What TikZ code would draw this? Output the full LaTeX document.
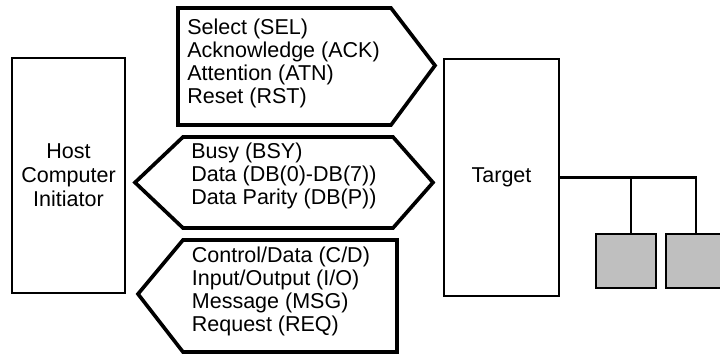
\documentclass[tikz,border=0pt]{standalone}
\usepackage{fontspec}
\setmainfont{Liberation Sans}
\usepackage{tikz}
\usetikzlibrary{calc}
\newcommand{\linecolor}{black}
\newcommand{\boxline}{1.7pt}
\newcommand{\sigline}{2.6pt}
\newcommand{\busline}{2.1pt}
\newcommand{\diskcolor}{black!25}

\begin{document}
\begin{tikzpicture}[
  unit/.style={draw=\linecolor, line width=\boxline, rectangle, inner sep=0pt, align=center},
  disk/.style={draw=\linecolor, line width=\busline, fill=\diskcolor, rectangle, minimum width=1.5cm, minimum height=1.35cm},
  sig/.style={draw=\linecolor, line width=\sigline},
  siglabel/.style={anchor=west, align=left, inner sep=0pt},
  bus/.style={draw=\linecolor, line width=\busline},
  font=\fontsize{15.3}{16.4}\selectfont]
\useasboundingbox (0,0) rectangle (18,8.85);
%units
\node[unit, minimum width=2.825cm, minimum height=5.875cm, font=\fontsize{15.3}{17.1}\selectfont] (host) at (1.7125, 4.47) {Host\\Computer\\Initiator};
\node[unit, minimum width=2.875cm, minimum height=5.925cm] (target) at (12.5375, 4.4125) {Target};
\node[disk] (disk1) at (15.65, 2.325) {};
\node[disk] (disk2) at (17.4, 2.325) {};
%signals to target
\draw[sig] (4.45, 8.65) -- (9.775, 8.65) -- (10.875, 7.2125) -- (9.775, 5.725) -- (4.45, 5.725) -- cycle;
\node[siglabel] (sel) at (4.675, 7.2675) {Select (SEL)\\Acknowledge (ACK)\\Attention (ATN)\\Reset (RST)};
%signals both ways
\draw[sig] (3.375, 4.2875) -- (4.575, 5.425) -- (9.825, 5.425) -- (10.825, 4.2875) -- (9.825, 3.15) -- (4.575, 3.15) -- cycle;
\node[siglabel] (bsy) at (4.775, 4.4625) {Busy (BSY)\\Data (DB(0)-DB(7))\\Data Parity (DB(P))};
%signals to host
\draw[sig] (3.45, 1.5) -- (4.575, 2.85) -- (9.925, 2.85) -- (9.925, 0.05) -- (4.575, 0.05) -- cycle;
\node[siglabel] (cd) at (4.79, 1.5575) {Control/Data (C/D)\\Input/Output (I/O)\\Message (MSG)\\Request (REQ)};
%bus
\draw[bus] (target.east) -| (disk2.north);
\draw[bus] ([xshift=0.125cm]disk1.north) -- ([xshift=0.125cm]disk1.north |- target.east);
\end{tikzpicture}
\end{document}
